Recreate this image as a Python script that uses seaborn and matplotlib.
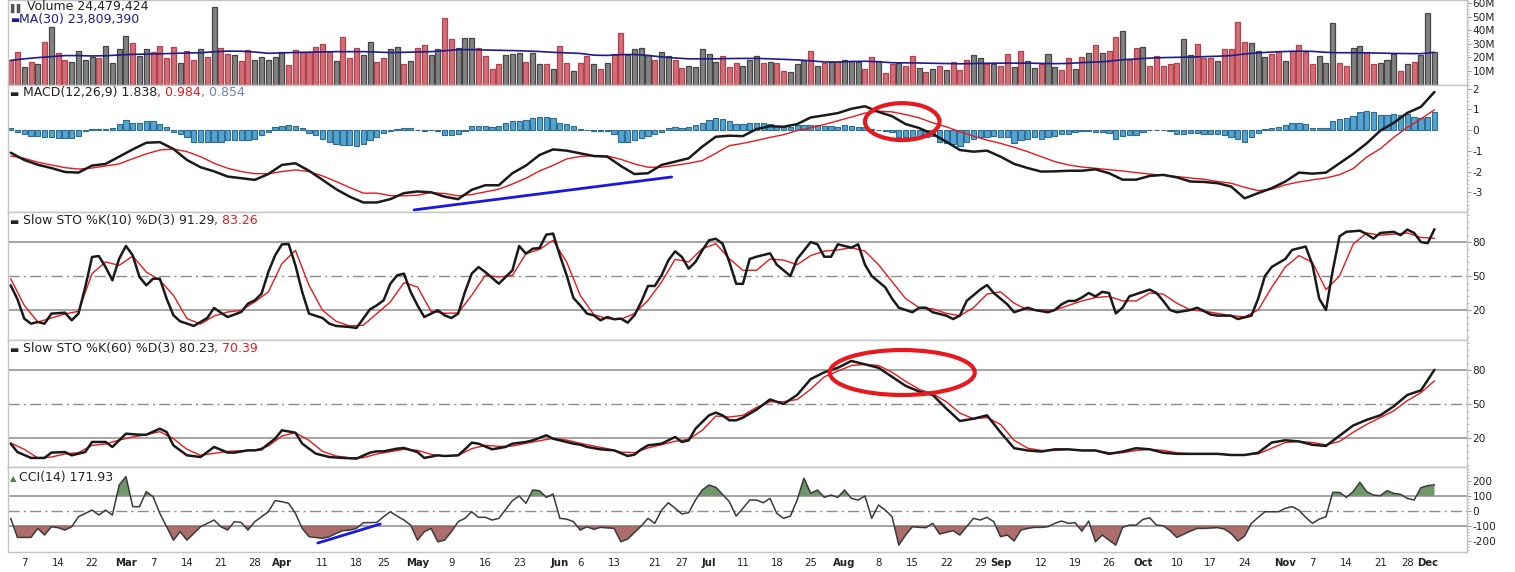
import numpy as np
import pandas as pd
import matplotlib.pyplot as plt
import seaborn as sns
from matplotlib.patches import Ellipse
from matplotlib.ticker import AutoMinorLocator, MultipleLocator

sns.set_style("white")
plt.rcParams["font.family"] = ["DejaVu Sans"]
plt.rcParams["axes.unicode_minus"] = False

# ---- data (trading-day index 0 = 2011-02-03) ----
# volume in millions, r = down day (red), g = up day (grey)
volume = [
    ("r", 17.8), ("r", 24), ("g", 13), ("r", 16.5), ("g", 14.8), ("r", 31.8), ("g", 42.8), ("r", 23.5), ("r", 18), ("g", 16.5),
    ("g", 25), ("g", 18.3), ("g", 20.3), ("r", 19.5), ("g", 28.5), ("g", 15.8), ("g", 26), ("g", 36), ("r", 31), ("g", 21),
    ("g", 26), ("r", 24), ("r", 28.5), ("r", 19.3), ("r", 27.5), ("g", 15.8), ("r", 25), ("r", 18.3), ("g", 26), ("r", 20),
    ("g", 57), ("r", 26.8), ("r", 22.8), ("g", 21.8), ("r", 17.5), ("r", 25.8), ("g", 18.3), ("g", 20), ("g", 18.3), ("g", 20),
    ("g", 23.8), ("r", 14.3), ("r", 25.8), ("r", 24), ("r", 24), ("r", 27.5), ("r", 30.3), ("r", 24), ("g", 17.5), ("r", 35.3),
    ("r", 19.3), ("r", 26.8), ("g", 21.8), ("g", 31.8), ("r", 16.5), ("r", 19.8), ("g", 26), ("g", 27.5), ("r", 15), ("g", 17.5),
    ("r", 26.8), ("r", 29.5), ("g", 21.8), ("g", 26), ("r", 49), ("r", 33.5), ("g", 26.8), ("g", 34.3), ("g", 34.3), ("r", 26.8),
    ("r", 20.8), ("r", 11.5), ("r", 15), ("g", 21.8), ("g", 22.5), ("g", 23.3), ("r", 16.5), ("g", 23.3), ("g", 15), ("r", 15),
    ("g", 11.5), ("r", 28.5), ("r", 15.8), ("g", 9.8), ("r", 15.8), ("r", 20.8), ("g", 15), ("r", 11.5), ("g", 15.8), ("r", 22.5),
    ("r", 37.8), ("g", 21.8), ("g", 26), ("g", 26.8), ("g", 21.8), ("r", 18.3), ("g", 24.3), ("g", 20.8), ("r", 18.3), ("r", 12.3),
    ("g", 14), ("g", 13.3), ("g", 26), ("g", 22.5), ("g", 16.5), ("r", 20.8), ("r", 13.3), ("r", 15.8), ("g", 14), ("g", 18.3),
    ("g", 20.8), ("r", 15.8), ("g", 16.5), ("r", 15.8), ("r", 9.8), ("g", 9), ("g", 15), ("g", 18.3), ("r", 25), ("g", 14),
    ("r", 15.8), ("g", 16.5), ("r", 16.5), ("g", 18.3), ("g", 17.5), ("g", 16.5), ("r", 11.5), ("r", 20), ("g", 17.5), ("r", 8.3),
    ("r", 15), ("g", 16), ("r", 14), ("r", 20.8), ("g", 12.3), ("r", 9), ("g", 11.5), ("r", 14), ("g", 10.8), ("r", 16.5),
    ("r", 10.8), ("r", 18.3), ("g", 21.8), ("g", 19.3), ("r", 14.8), ("g", 15), ("r", 14), ("r", 22.5), ("g", 13.3), ("r", 25),
    ("g", 17.5), ("g", 12.3), ("r", 15), ("g", 22.5), ("g", 13.3), ("r", 10.8), ("r", 19.3), ("g", 11.5), ("r", 20), ("g", 23.3),
    ("r", 29.3), ("g", 23.3), ("r", 25), ("r", 35.3), ("g", 39.5), ("r", 18.3), ("r", 26.8), ("g", 27.5), ("r", 14), ("r", 20.8),
    ("r", 14), ("r", 15), ("r", 15.8), ("g", 33.5), ("g", 21.8), ("r", 30), ("r", 19.3), ("r", 19.3), ("g", 17.5), ("r", 26),
    ("r", 26), ("r", 46.3), ("r", 31.8), ("g", 31), ("g", 25), ("g", 20), ("r", 22.5), ("r", 25), ("g", 17.5), ("r", 25),
    ("r", 29.3), ("r", 24.3), ("r", 15), ("g", 20.8), ("g", 15.8), ("g", 45.5), ("r", 15.8), ("r", 14), ("g", 26.8), ("g", 28.5),
    ("r", 24.3), ("r", 15), ("g", 15.8), ("g", 18.3), ("g", 22.5), ("r", 9.8), ("g", 15), ("r", 16.5), ("g", 21.8), ("g", 53),
    ("g", 24.3),
]

# MA(30) of volume, every second trading day
vol_ma30 = [17.8, 19.0, 19.9, 20.6, 21.4, 21.4, 21.1, 21.3, 21.8, 22.3,
            22.5, 22.7, 23.0, 23.3, 23.5, 24.2, 24.7, 24.6, 24.0, 23.1,
            23.4, 23.7, 23.9, 24.1, 24.3, 24.3, 24.3, 24.0, 23.6, 23.8,
            24.1, 24.3, 25.0, 25.8, 25.8, 25.5, 25.3, 25.1, 24.8, 24.4,
            23.8, 23.4, 23.0, 21.7, 21.5, 22.1, 22.2, 21.5, 20.4, 19.6,
            19.0, 19.0, 19.0, 19.2, 19.3, 19.3, 19.0, 18.6, 18.2, 17.5,
            16.7, 16.6, 17.0, 17.2, 16.8, 16.1, 16.0, 15.9, 15.7, 15.5,
            15.3, 15.5, 15.7, 15.8, 15.8, 15.8, 15.6, 15.4, 15.6, 16.2,
            16.6, 17.2, 18.3, 18.9, 19.5, 19.9, 20.1, 20.3, 20.6, 20.9,
            21.4, 22.6, 23.4, 24.0, 24.4, 24.7, 24.5, 23.8, 23.5, 23.5,
            23.4, 23.2, 23.0, 22.9, 22.8, 23.8]

# MACD line and signal, every second trading day
macd_line = [-1.09, -1.44, -1.67, -1.83, -2.02, -2.05, -1.71, -1.63, -1.28, -0.93,
             -0.61, -0.58, -0.91, -1.44, -1.79, -1.99, -2.24, -2.32, -2.40, -2.12,
             -1.68, -1.60, -1.96, -2.40, -2.85, -3.21, -3.49, -3.49, -3.33, -3.04,
             -2.96, -3.00, -3.21, -3.33, -2.88, -2.66, -2.66, -2.08, -1.71, -1.20,
             -0.93, -0.99, -1.12, -1.25, -1.28, -1.73, -2.12, -2.08, -1.68, -1.52,
             -1.36, -0.80, -0.32, -0.27, -0.29, 0.05, 0.19, 0.16, 0.29, 0.61,
             0.71, 0.82, 1.03, 1.15, 0.88, 0.67, 0.29, 0.10, -0.19, -0.56,
             -0.96, -1.04, -0.99, -1.28, -1.63, -1.83, -2.00, -1.99, -1.96, -1.96,
             -1.89, -2.08, -2.39, -2.39, -2.21, -2.16, -2.28, -2.48, -2.50, -2.56,
             -2.72, -3.29, -3.04, -2.80, -2.48, -2.05, -2.10, -2.05, -1.60, -1.15,
             -0.64, -0.03, 0.35, 0.83, 1.12, 1.84]
macd_signal = [-1.25, -1.36, -1.55, -1.68, -1.81, -1.88, -1.83, -1.73, -1.63, -1.38,
               -1.15, -0.96, -0.91, -1.04, -1.28, -1.60, -1.84, -2.00, -2.10, -2.10,
               -2.00, -1.92, -2.00, -2.21, -2.48, -2.77, -3.04, -3.04, -3.16, -3.17,
               -3.14, -3.01, -3.06, -3.17, -3.11, -2.98, -2.85, -2.60, -2.32, -1.97,
               -1.70, -1.39, -1.27, -1.23, -1.25, -1.41, -1.63, -1.79, -1.79, -1.70,
               -1.60, -1.47, -1.12, -0.75, -0.64, -0.50, -0.35, -0.22, -0.02, 0.11,
               0.27, 0.45, 0.63, 0.82, 0.91, 0.88, 0.75, 0.59, 0.35, 0.16,
               -0.08, -0.29, -0.48, -0.64, -0.83, -1.04, -1.28, -1.52, -1.68, -1.78,
               -1.84, -1.91, -1.97, -2.05, -2.12, -2.18, -2.24, -2.31, -2.37, -2.48,
               -2.56, -2.76, -2.92, -2.85, -2.64, -2.50, -2.40, -2.31, -2.15, -1.86,
               -1.30, -0.90, -0.35, 0.13, 0.54, 0.98]
# MACD histogram, every trading day
macd_hist = [0.1, -0.1, -0.2, -0.3, -0.3, -0.35, -0.35, -0.4, -0.4, -0.38,
             -0.3, -0.05, 0.05, 0.05, 0.05, 0.08, 0.3, 0.48, 0.35, 0.35,
             0.45, 0.45, 0.3, 0.15, -0.08, -0.2, -0.35, -0.55, -0.55, -0.55,
             -0.58, -0.58, -0.5, -0.5, -0.5, -0.5, -0.45, -0.25, -0.08, 0.15,
             0.2, 0.25, 0.2, 0.08, -0.15, -0.25, -0.45, -0.55, -0.65, -0.7,
             -0.7, -0.75, -0.65, -0.5, -0.35, -0.15, -0.03, 0.05, 0.08, 0.08,
             0.0, -0.02, 0.0, -0.05, -0.25, -0.25, -0.2, -0.05, 0.2, 0.2,
             0.2, 0.15, 0.2, 0.35, 0.45, 0.45, 0.5, 0.6, 0.65, 0.65,
             0.6, 0.35, 0.3, 0.2, 0.05, 0.0, -0.05, -0.05, -0.05, -0.2,
             -0.55, -0.55, -0.5, -0.4, -0.3, -0.2, -0.1, 0.1, 0.15, 0.1,
             0.15, 0.25, 0.35, 0.5, 0.6, 0.55, 0.45, 0.3, 0.3, 0.35,
             0.35, 0.35, 0.3, 0.2, 0.15, 0.15, 0.25, 0.25, 0.25, 0.25,
             0.2, 0.2, 0.15, 0.25, 0.2, 0.15, 0.15, 0.05, 0.0, -0.05,
             -0.1, -0.35, -0.35, -0.35, -0.35, -0.35, -0.3, -0.55, -0.6, -0.65,
             -0.75, -0.55, -0.45, -0.35, -0.35, -0.3, -0.35, -0.35, -0.6, -0.5,
             -0.45, -0.35, -0.45, -0.35, -0.3, -0.2, -0.2, -0.1, -0.05, -0.05,
             -0.08, -0.1, -0.15, -0.45, -0.3, -0.25, -0.25, -0.1, 0.0, 0.0,
             0.0, -0.05, -0.2, -0.2, -0.15, -0.15, -0.2, -0.2, -0.2, -0.25,
             -0.35, -0.45, -0.55, -0.35, -0.15, 0.05, 0.1, 0.15, 0.25, 0.35,
             0.35, 0.3, 0.1, 0.08, 0.12, 0.45, 0.55, 0.6, 0.7, 0.85,
             0.9, 0.85, 0.75, 0.75, 0.8, 0.75, 0.8, 0.65, 0.6, 0.65,
             0.85]

# Slow STO %K(10): (day, value); %D(3) every second day
sto10_k = [(0, 41.8), (1, 29.4), (2, 12.4), (3, 7.9), (4, 9.4), (5, 7.9), (6, 16.8), (8, 17.6), (9, 10.9), (10, 16.8),
           (11, 40.3), (12, 66.8), (13, 67.6), (14, 57.9), (15, 46.2), (16, 65.3), (17, 76.5), (18, 68.2), (19, 49.1), (20, 41.8),
           (21, 47.6), (22, 47.6), (23, 30), (24, 15.3), (25, 10), (26, 7.9), (27, 5.9), (28, 9.4), (29, 12.9), (30, 21.8),
           (31, 17.6), (32, 13.8), (34, 18.2), (35, 25.6), (36, 28.5), (37, 34.4), (38, 53.5), (39, 68.2), (40, 77.9), (41, 78.2),
           (42, 59.4), (43, 35.9), (44, 16.8), (46, 12.9), (47, 7.9), (48, 5.9), (50, 5), (51, 4.1), (52, 12.4), (53, 20.6),
           (54, 24.1), (55, 28.5), (56, 43.2), (57, 50.6), (58, 52.1), (59, 35.9), (60, 24.1), (61, 13.8), (62, 16.8), (63, 19.7),
           (64, 15.3), (65, 12.9), (66, 16.8), (67, 35.9), (68, 52.1), (69, 57.9), (70, 53.5), (72, 43.2), (73, 49.1), (74, 55),
           (75, 76.5), (76, 69.7), (77, 74.1), (78, 74.7), (79, 86.5), (80, 87.4), (81, 68.2), (82, 50.6), (83, 30.6), (84, 24.1),
           (85, 16.8), (86, 15.3), (87, 10.9), (88, 13.8), (89, 11.8), (90, 12.4), (91, 8.8), (92, 15.3), (93, 27.1), (94, 41.2),
           (95, 41.2), (96, 50.6), (97, 63.8), (98, 71.8), (99, 66.8), (100, 56.5), (101, 62.4), (102, 72.6), (103, 81.5), (104, 82.9),
           (105, 78.5), (106, 62.4), (107, 43.2), (108, 43), (109, 65), (110, 67), (112, 70), (113, 60), (115, 50), (116, 65),
           (118, 80), (119, 78), (120, 67), (121, 67), (122, 78), (124, 75), (125, 78), (126, 60), (127, 50), (129, 40),
           (130, 30), (131, 22), (133, 18), (134, 22), (135, 22), (136, 18), (138, 15), (139, 12), (140, 15), (141, 28),
           (143, 38), (144, 42), (145, 35), (147, 25), (148, 18), (150, 22), (151, 20), (153, 18), (154, 20), (155, 25),
           (156, 28), (157, 28), (158, 31), (159, 35), (160, 32), (161, 36), (162, 35), (163, 17), (164, 22), (165, 32),
           (167, 36), (168, 38), (169, 35), (170, 28), (171, 20), (172, 18), (174, 20), (175, 22), (177, 16), (178, 15),
           (180, 15), (181, 12), (183, 15), (184, 30), (185, 50), (186, 58), (188, 65), (189, 73), (191, 76), (192, 60),
           (193, 30), (194, 20), (195, 55), (196, 85), (197, 89), (199, 90), (200, 87), (201, 83), (202, 88), (204, 89),
           (205, 86), (206, 91), (207, 88), (208, 80), (209, 79), (210, 91.3)]
sto10_d = [47.6, 24.1, 9.4, 12.9, 16.5, 18.8, 52.1, 62.4, 59.4, 67.6,
           53.5, 46.2, 33.0, 12.4, 7.6, 14.7, 18.2, 19.7, 27.1, 35.9,
           60.9, 72.6, 41.8, 19.7, 10.0, 5.9, 6.5, 16.8, 27.1, 44.1,
           40.3, 18.8, 17.1, 17.4, 33.0, 50.6, 49.1, 50.6, 69.7, 73.5,
           81.5, 62.4, 33.0, 15.9, 12.4, 11.8, 16.8, 28.5, 44.7, 64.7,
           62.4, 74.1, 78.5, 65.3, 55, 55, 65, 64, 60, 68,
           72, 73, 75, 72, 60, 45, 30, 22, 21, 17,
           15, 22, 34, 36, 26, 20, 20, 20, 24, 28,
           31, 32, 28, 28, 35, 34, 26, 20, 19, 17,
           15, 14, 20, 40, 58, 68, 62, 38, 50, 78,
           88, 86, 87, 88, 84, 83.3]

# Slow STO %K(60): (day, value); %D(3) every second day
sto60_k = [(0, 15), (1, 7.6), (3, 2.4), (5, 2.4), (6, 7.1), (8, 7.6), (9, 4.7), (11, 7.6), (12, 16.5), (14, 16.5),
           (15, 12.1), (17, 23.8), (19, 22.9), (20, 22.9), (22, 28.2), (23, 25.3), (24, 13.5), (26, 4.7), (28, 3.2), (29, 7.6),
           (30, 12.1), (32, 7.1), (33, 7.1), (35, 9.1), (36, 9.1), (37, 10), (39, 19.4), (40, 26.8), (42, 24.7), (43, 15),
           (45, 6.2), (47, 3.2), (49, 2.4), (51, 1.8), (53, 7.1), (54, 8.2), (55, 8.2), (57, 10.6), (58, 11.2), (60, 7.6),
           (61, 2.4), (63, 4.7), (64, 4.1), (66, 4.7), (67, 10), (68, 15.9), (69, 15), (71, 10), (73, 12.1), (74, 15),
           (76, 16.5), (77, 17.9), (79, 22.4), (80, 19.4), (83, 15), (84, 14.1), (85, 12.1), (87, 10), (89, 9.1), (91, 4.1),
           (92, 5.3), (93, 10), (94, 13.5), (96, 15), (98, 20.9), (99, 16.5), (100, 17.9), (101, 28.2), (103, 40), (104, 42.4),
           (105, 40), (106, 35.6), (107, 35.6), (108, 38), (110, 45), (112, 54), (114, 50), (116, 58), (118, 72), (120, 78),
           (122, 82), (124, 88), (126, 85), (128, 82), (130, 74), (132, 66), (134, 61), (136, 58), (138, 46), (140, 35),
           (142, 37), (144, 40), (146, 25), (148, 11), (150, 9), (152, 8), (154, 10), (156, 10), (158, 9), (160, 9),
           (162, 6), (164, 8), (166, 11), (168, 10), (170, 7), (172, 6), (174, 6), (176, 6), (178, 6), (180, 5),
           (182, 5), (184, 7), (186, 16), (188, 18), (190, 17), (192, 14), (194, 13), (196, 22), (198, 31), (200, 36),
           (202, 40), (204, 48), (206, 58), (208, 62), (210, 80.2)]
sto60_d = [15.6, 10.0, 2.4, 3.2, 5.9, 7.1, 13.5, 14.7, 18.2, 20.9,
           22.9, 25.6, 19.4, 10.0, 4.7, 6.5, 8.2, 8.8, 9.1, 12.9,
           21.8, 24.7, 17.9, 8.2, 4.1, 2.6, 2.6, 5.9, 7.9, 10.0,
           9.1, 5.6, 4.1, 4.7, 10.6, 13.5, 12.6, 12.9, 15.3, 17.6,
           19.7, 18.2, 15.3, 12.9, 10.6, 7.6, 7.1, 11.2, 14.1, 17.1,
           18.8, 26.8, 39.4, 38.5, 40, 47, 52, 52, 54, 63,
           74, 79, 84, 85, 84, 78, 70, 63, 59, 52,
           42, 37, 38, 32, 18, 11, 9, 9, 10, 9,
           9, 7, 7, 9, 10, 9, 7, 6, 6, 6,
           5, 5, 6, 11, 16, 17, 16, 14, 17, 25,
           32, 38, 44, 53, 60, 70.4]

# CCI(14): (day, value)
cci14 = [(0, -51), (1, -178), (3, -178), (4, -118), (5, -162), (6, -107), (7, -113), (8, -129), (9, -107), (10, -40),
         (12, 4), (13, -29), (14, 4), (15, -29), (16, 171), (17, 227), (18, 27), (19, 27), (20, 127), (21, 93),
         (22, -18), (24, -196), (25, -140), (26, -196), (27, -151), (28, -107), (30, -62), (31, -107), (32, -129), (33, -73),
         (34, -78), (35, -129), (36, -73), (38, -7), (39, 67), (40, 60), (41, 49), (42, -18), (43, -118), (44, -173),
         (46, -184), (47, -173), (48, -151), (49, -133), (50, -129), (51, -118), (52, -80), (54, -78), (55, -40), (56, -7),
         (57, -36), (58, -62), (59, -96), (60, -196), (61, -140), (62, -118), (63, -207), (64, -196), (65, -140), (66, -73),
         (67, -51), (68, -7), (69, -44), (70, -44), (71, -62), (72, -51), (74, 67), (75, 98), (76, 49), (77, 138),
         (78, 133), (79, 89), (80, 111), (81, -51), (82, -56), (83, -73), (84, -129), (85, -107), (86, -124), (87, -111),
         (89, -118), (90, -207), (91, -189), (93, -102), (94, -51), (95, -84), (96, 4), (97, 53), (98, 16), (99, -22),
         (100, -13), (101, 71), (102, 138), (103, 171), (104, 156), (106, 60), (107, -36), (108, 16), (109, 71), (110, 71),
         (111, 53), (112, 82), (113, -18), (114, -51), (115, -36), (116, 71), (117, 216), (118, 116), (119, 138), (120, 89),
         (121, 104), (122, 89), (123, 138), (124, 82), (125, 71), (126, 98), (127, -51), (128, 38), (129, 4), (130, -40),
         (131, -229), (132, -162), (133, -107), (134, -111), (135, -113), (136, -84), (137, -156), (138, -144), (139, -133), (140, -162),
         (141, -107), (142, -51), (143, -62), (144, -44), (145, -73), (146, -173), (147, -162), (148, -202), (149, -129), (150, -118),
         (151, -111), (152, -111), (153, -107), (154, -84), (155, -69), (156, -84), (157, -80), (158, -136), (159, -69), (160, -207),
         (161, -162), (162, -196), (163, -229), (164, -111), (165, -96), (166, -96), (167, -58), (168, -47), (169, -96), (170, -100),
         (171, -133), (172, -178), (174, -136), (175, -118), (176, -118), (178, -113), (179, -122), (180, -151), (181, -202), (182, -169),
         (183, -84), (184, -44), (185, -7), (187, -7), (188, 16), (189, 27), (190, 4), (191, -44), (192, -84), (193, -56),
         (194, -40), (195, 122), (196, 122), (197, 89), (198, 127), (199, 189), (200, 127), (201, 104), (202, 100), (203, 133),
         (204, 116), (205, 109), (206, 82), (207, 71), (208, 153), (209, 167), (210, 172)]

tick_dates = ["2011-02-07", "2011-02-14", "2011-02-22", "2011-03-01", "2011-03-07", "2011-03-14", "2011-03-21",
              "2011-03-28", "2011-04-01", "2011-04-11", "2011-04-18", "2011-04-25", "2011-05-02", "2011-05-09",
              "2011-05-16", "2011-05-23", "2011-06-01", "2011-06-06", "2011-06-13", "2011-06-21", "2011-06-27",
              "2011-07-01", "2011-07-11", "2011-07-18", "2011-07-25", "2011-08-01", "2011-08-08", "2011-08-15",
              "2011-08-22", "2011-08-29", "2011-09-01", "2011-09-12", "2011-09-19", "2011-09-26", "2011-10-03",
              "2011-10-10", "2011-10-17", "2011-10-24", "2011-11-01", "2011-11-07", "2011-11-14", "2011-11-21",
              "2011-11-28", "2011-12-01"]
tick_labels = ["7", "14", "22", "Mar", "7", "14", "21", "28", "Apr", "11", "18", "25", "May", "9", "16", "23",
               "Jun", "6", "13", "21", "27", "Jul", "11", "18", "25", "Aug", "8", "15", "22", "29", "Sep", "12",
               "19", "26", "Oct", "10", "17", "24", "Nov", "7", "14", "21", "28", "Dec"]
holidays = ["2011-02-21", "2011-04-22", "2011-05-30", "2011-07-04", "2011-09-05", "2011-11-24"]

# ---- build frames ----
n = len(volume)
days = np.arange(n)
dates = pd.bdate_range("2011-02-03", periods=n, freq="C", holidays=holidays)
vol_df = pd.DataFrame({"day": days, "dir": [v[0] for v in volume], "vol": [v[1] for v in volume]})

def every2(vals):
    return np.arange(len(vals)) * 2

k10 = pd.DataFrame(sto10_k, columns=["day", "val"])
k60 = pd.DataFrame(sto60_k, columns=["day", "val"])
cci = pd.DataFrame(cci14, columns=["day", "val"])

RED = "#e8191c"
GRID = "#8c8c8c"
EDGE = "#c4c4c4"
FS = 9.0

fig = plt.figure(figsize=(15.15, 5.72), dpi=100)
L, W = 7.5 / 1515, (1467 - 7.5) / 1515

def panel(top, bot):
    return fig.add_axes([L, 1 - bot / 572, W, (bot - top) / 572])

ax_vol = panel(0, 84.5)
ax_macd = panel(84.5, 212)
ax_s10 = panel(212, 340)
ax_s60 = panel(340, 467)
ax_cci = panel(467, 552)
axes = [ax_vol, ax_macd, ax_s10, ax_s60, ax_cci]

# Volume
sns.barplot(data=vol_df, x="day", y="vol", hue="dir", palette={"r": "#cf6f78", "g": "#828282"},
            native_scale=True, dodge=False, width=0.74, saturation=1, errorbar=None,
            legend=False, ax=ax_vol, linewidth=0.9)
for p in ax_vol.patches:
    fc = p.get_facecolor()
    p.set_edgecolor("#b9404b" if fc[0] > fc[2] + 0.1 else "#454545")
sns.lineplot(x=every2(vol_ma30), y=vol_ma30, color="#1c1c8a", linewidth=1.2, ax=ax_vol)
ax_vol.set_ylim(0, 62.5)
ax_vol.set_yticks([10, 20, 30, 40, 50, 60])
ax_vol.set_yticklabels(["10M", "20M", "30M", "40M", "50M", "60M"])

# MACD
sns.barplot(x=days, y=macd_hist, color="#55a3cf", native_scale=True, width=0.78, saturation=1,
            errorbar=None, ax=ax_macd, edgecolor="#2b6d93", linewidth=0.8)
sns.lineplot(x=every2(macd_signal), y=macd_signal, color=RED, linewidth=1.0, ax=ax_macd)
sns.lineplot(x=every2(macd_line), y=macd_line, color="#1a1a1a", linewidth=1.8, ax=ax_macd)
ax_macd.set_ylim(-3.95, 2.2)
ax_macd.set_yticks([-3, -2, -1, 0, 1, 2])
ax_macd.add_patch(Ellipse((131.5, 0.41), 11.0, 1.78, fill=False, edgecolor=RED, linewidth=3, zorder=5))
ax_macd.plot([59.5, 97.5], [-3.85, -2.26], color="#1818e6", linewidth=2, zorder=5)

# Slow STO panels
for ax, k, d, lims in [(ax_s10, k10, sto10_d, (-6.5, 106.5)), (ax_s60, k60, sto60_d, (-5.6, 106.5))]:
    for lvl in (20, 80):
        ax.axhline(lvl, color=GRID, linewidth=1.1, zorder=1)
    ax.axhline(50, color=GRID, linewidth=1.0, linestyle=(0, (8, 3, 1.5, 3)), zorder=1)
    sns.lineplot(x=every2(d), y=d, color=RED, linewidth=1.0, ax=ax)
    sns.lineplot(data=k, x="day", y="val", color="#1a1a1a", linewidth=1.8, ax=ax)
    ax.set_ylim(*lims)
    ax.set_yticks([20, 50, 80])
ax_s60.add_patch(Ellipse((131.5, 77.8), 21.4, 39.7, fill=False, edgecolor=RED, linewidth=3, zorder=5))

# CCI
for lvl in (-100, 100):
    ax_cci.axhline(lvl, color=GRID, linewidth=1.1, zorder=1)
ax_cci.axhline(0, color=GRID, linewidth=1.0, linestyle=(0, (8, 3, 1.5, 3)), zorder=1)
ax_cci.fill_between(cci["day"], cci["val"], 100, where=cci["val"] > 100, interpolate=True,
                    color="#5f8c5a", alpha=0.9, linewidth=0, zorder=2)
ax_cci.fill_between(cci["day"], cci["val"], -100, where=cci["val"] < -100, interpolate=True,
                    color="#a25e5a", alpha=0.9, linewidth=0, zorder=2)
sns.lineplot(data=cci, x="day", y="val", color="#3a3a3a", linewidth=1.1, ax=ax_cci, zorder=3)
ax_cci.plot([45.3, 54.5], [-215, -89], color="#1818e6", linewidth=2, zorder=5)
ax_cci.set_ylim(-275, 291)
ax_cci.set_yticks([-200, -100, 0, 100, 200])

# axes styling
for ax in axes:
    ax.set_xlim(-0.47, 214.8)
    ax.set_xlabel("")
    ax.set_ylabel("")
    ax.yaxis.tick_right()
    ax.yaxis.set_minor_locator(AutoMinorLocator(5))
    ax.tick_params(axis="y", which="major", direction="out", length=3, width=0.8, color="#999999",
                   labelsize=7.6, labelcolor="#222222", pad=1)
    ax.tick_params(axis="y", which="minor", direction="out", length=1.5, width=0.6, color="#b0b0b0")
    for s in ax.spines.values():
        s.set_color(EDGE)
        s.set_linewidth(1.0)
    if ax is not ax_cci:
        ax.set_xticks([])
        ax.tick_params(axis="x", which="both", length=0, labelbottom=False)

pos = dates.get_indexer(pd.to_datetime(tick_dates))
ax_cci.set_xticks(pos)
ax_cci.set_xticklabels(tick_labels)
ax_cci.xaxis.set_minor_locator(MultipleLocator(1))
ax_cci.tick_params(axis="x", which="major", length=0, labelsize=7.3, labelcolor="#222222", pad=4)
ax_cci.tick_params(axis="x", which="minor", length=2, width=0.6, color="#b5b5b5")
for t in ax_cci.get_xticklabels():
    if t.get_text().isalpha():
        t.set_fontweight("bold")

# panel titles, built from coloured pieces
def title_row(ax, y, parts):
    t = ax.text(0.0018, y, parts[0][0], transform=ax.transAxes, color=parts[0][1],
                fontsize=parts[0][2] if len(parts[0]) > 2 else FS, va="center", ha="left")
    for piece in parts[1:]:
        t = ax.annotate(piece[0], xy=(1, 0), xycoords=t, va="bottom", ha="left", color=piece[1],
                        fontsize=piece[2] if len(piece) > 2 else FS)
    return t

title_row(ax_vol, 1 - 8.5 / 84.5, [("\u258c\u258c ", "#555555", 6.5), ("Volume 24,479,424", "#222222")])
title_row(ax_vol, 1 - 20.5 / 84.5, [("\u25ac", "#1c1c8a", 7), ("MA(30) 23,809,390", "#1c1c8a")])
title_row(ax_macd, 1 - 9.5 / 127.5, [("\u25ac ", "#222222", 7), ("MACD(12,26,9) 1.838", "#222222"),
                                     (", 0.984", RED), (", 0.854", "#6f82b8")])
title_row(ax_s10, 1 - 10 / 128, [("\u25ac ", "#222222", 7), ("Slow STO %K(10) %D(3) 91.29", "#222222"), (", 83.26", RED)])
title_row(ax_s60, 1 - 10 / 127, [("\u25ac ", "#222222", 7), ("Slow STO %K(60) %D(3) 80.23", "#222222"), (", 70.39", RED)])
title_row(ax_cci, 1 - 12 / 85, [("\u25b2 ", "#4f7f4a", 6), ("CCI(14) 171.93", "#222222")])

fig.savefig("out.png", dpi=100)
